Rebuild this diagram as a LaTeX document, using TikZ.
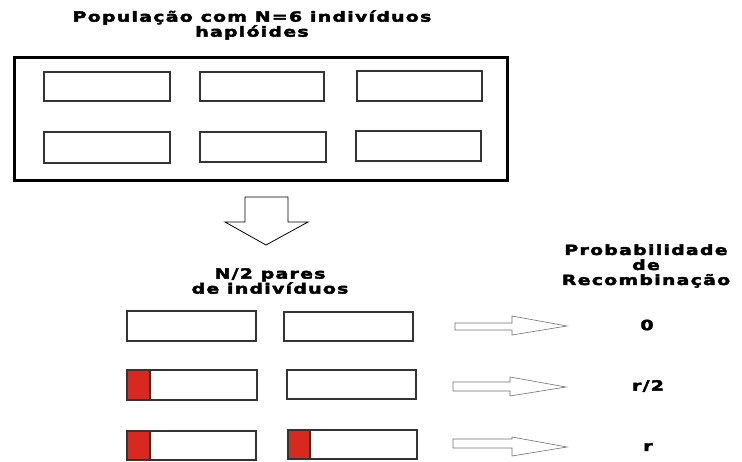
\documentclass[tikz,border=0pt]{standalone}
\usepackage{fontspec}
\setmainfont{DejaVu Sans}[FakeStretch=1.35, LetterSpace=9, BoldFeatures={FakeBold=3}]
\definecolor{boxline}{HTML}{333333}
\definecolor{redfill}{HTML}{D9281E}
\definecolor{arrowline}{HTML}{707070}
\tikzset{
  ind/.style={draw=boxline, line width=1.1pt, fill=white},
  redpart/.style={fill=redfill, draw=boxline, line width=1.1pt},
  label/.style={font=\bfseries\fontsize{14}{15}\selectfont, align=center, inner sep=0pt, text=black},
  bigarrow/.style={draw=black, line width=0.8pt, fill=white},
  smallarrow/.style={draw=arrowline, line width=0.6pt, fill=white}
}
\begin{document}
\begin{tikzpicture}[x=1pt, y=-1pt]
\useasboundingbox (0,0) rectangle (742,461);
% title
\node[label] (title) at (252,25) {População com N=6 indivíduos\\haplóides};
% population box
\draw[line width=3pt, draw=black] (14,57) rectangle (507,180);
\draw[ind] (44,72) rectangle (170,101);
\draw[ind] (200,72) rectangle (324,101);
\draw[ind] (357,71) rectangle (482,101);
\draw[ind] (44,132) rectangle (170,163);
\draw[ind] (200,132) rectangle (326,162);
\draw[ind] (356,131) rectangle (481,161);
% down arrow
\draw[bigarrow] (245,197) -- (288,197) -- (288,222) -- (308,222) -- (266,245) -- (225,222) -- (245,222) -- cycle;
% pairs label
\node[label] (pairs) at (270,281) {N/2 pares\\de indivíduos};
% pair boxes
\draw[ind] (127,311) rectangle (256,341);
\draw[ind] (284,312) rectangle (413,341);
\draw[ind] (127,370) rectangle (257,400);
\draw[redpart] (127,370) rectangle (150,400);
\draw[ind] (287,370) rectangle (416,399);
\draw[ind] (127,431) rectangle (256,460);
\draw[redpart] (127,431) rectangle (150,460);
\draw[ind] (288,430) rectangle (417,459);
\draw[redpart] (288,430) rectangle (310,459);
% small arrows
\draw[smallarrow] (455,323) -- (512,323) -- (512,316) -- (567,326) -- (512,335) -- (512,330) -- (455,330) -- cycle;
\draw[smallarrow] (453,382) -- (510,382) -- (510,377) -- (566,387) -- (510,396) -- (510,391) -- (453,391) -- cycle;
\draw[smallarrow] (453,439) -- (512,439) -- (512,437) -- (567,447) -- (512,456) -- (512,448) -- (453,448) -- cycle;
% probability labels
\node[label] (prob) at (646,266) {Probabilidade\\de\\Recombinação};
\node[label] (v0) at (647,325) {0};
\node[label] (v1) at (648,386) {r/2};
\node[label] (v2) at (648,447) {r};
\end{tikzpicture}
\end{document}
